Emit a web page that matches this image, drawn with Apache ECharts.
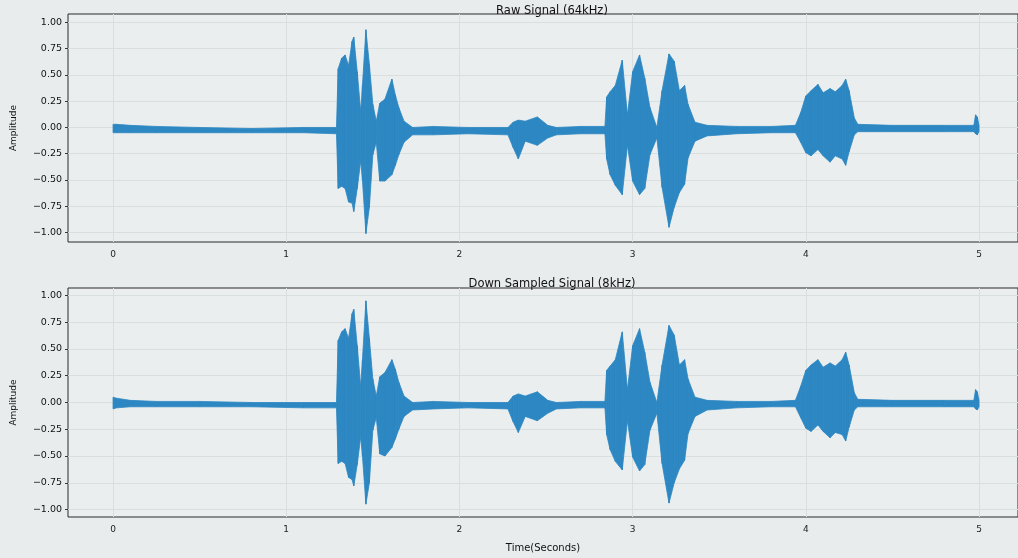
<!DOCTYPE html>
<html>
<head>
<meta charset="utf-8">
<script src="https://cdn.jsdelivr.net/npm/echarts@6/dist/echarts.min.js"></script>
<style>
  html, body { margin: 0; padding: 0; background: #e8ecec; }
  #chart { width: 1018px; height: 558px; }
</style>
</head>
<body>
<div id="chart"></div>
<script>
// time of each envelope sample (seconds)
var seconds = [
  0.00, 0.02, 0.10, 0.25, 0.50, 0.80, 1.10, 1.29, 1.30, 1.32,
  1.34, 1.36, 1.38, 1.39, 1.41, 1.43, 1.44, 1.46, 1.48, 1.50,
  1.52, 1.54, 1.57, 1.61, 1.63, 1.65, 1.68, 1.73, 1.85, 2.05,
  2.28, 2.31, 2.34, 2.38, 2.45, 2.51, 2.56, 2.70, 2.84, 2.85,
  2.87, 2.90, 2.94, 2.97, 3.00, 3.04, 3.07, 3.10, 3.14, 3.17,
  3.21, 3.24, 3.27, 3.30, 3.32, 3.36, 3.43, 3.60, 3.80, 3.94,
  3.97, 4.00, 4.03, 4.07, 4.10, 4.14, 4.17, 4.21, 4.23, 4.25,
  4.28, 4.30, 4.50, 4.80, 4.97, 4.98, 4.99, 5.00
];
// raw signal (64kHz) envelope, top / bottom
var rawUpper = [
  0.03, 0.03, 0.02, 0.01, 0.00, -0.01, 0.00, 0.00, 0.56, 0.66,
  0.69, 0.59, 0.82, 0.86, 0.53, 0.15, 0.40, 0.93, 0.60, 0.22,
  0.06, 0.23, 0.27, 0.46, 0.31, 0.19, 0.06, 0.00, 0.01, 0.00,
  0.00, 0.05, 0.07, 0.06, 0.10, 0.02, 0.00, 0.01, 0.01, 0.29,
  0.34, 0.40, 0.64, 0.12, 0.53, 0.69, 0.47, 0.19, 0.00, 0.35,
  0.70, 0.63, 0.35, 0.40, 0.22, 0.05, 0.02, 0.01, 0.01, 0.02,
  0.14, 0.30, 0.35, 0.41, 0.33, 0.37, 0.34, 0.40, 0.46, 0.35,
  0.09, 0.03, 0.02, 0.02, 0.02, 0.12, 0.10, 0.02
];
var rawLower = [
  -0.05, -0.05, -0.05, -0.05, -0.05, -0.05, -0.05, -0.06, -0.58, -0.56,
  -0.58, -0.71, -0.72, -0.80, -0.58, -0.32, -0.50, -1.01, -0.76, -0.26,
  -0.14, -0.51, -0.51, -0.45, -0.36, -0.26, -0.14, -0.07, -0.07, -0.06,
  -0.07, -0.19, -0.30, -0.13, -0.17, -0.10, -0.07, -0.06, -0.06, -0.30,
  -0.45, -0.55, -0.64, -0.17, -0.51, -0.64, -0.58, -0.26, -0.10, -0.57,
  -0.95, -0.76, -0.62, -0.54, -0.29, -0.13, -0.08, -0.06, -0.05, -0.05,
  -0.14, -0.24, -0.27, -0.21, -0.27, -0.33, -0.27, -0.30, -0.36, -0.23,
  -0.07, -0.04, -0.04, -0.04, -0.04, -0.06, -0.07, -0.04
];
// down sampled signal (8kHz) envelope
var downUpper = [
  0.05, 0.04, 0.02, 0.01, 0.01, 0.00, 0.00, 0.00, 0.58, 0.66,
  0.69, 0.60, 0.83, 0.87, 0.53, 0.15, 0.40, 0.95, 0.60, 0.22,
  0.06, 0.24, 0.28, 0.40, 0.31, 0.19, 0.06, 0.00, 0.01, 0.00,
  0.00, 0.06, 0.08, 0.06, 0.10, 0.02, 0.00, 0.01, 0.01, 0.30,
  0.34, 0.40, 0.66, 0.12, 0.53, 0.69, 0.47, 0.19, 0.00, 0.35,
  0.72, 0.63, 0.35, 0.40, 0.22, 0.05, 0.02, 0.01, 0.01, 0.02,
  0.15, 0.30, 0.35, 0.40, 0.33, 0.37, 0.34, 0.40, 0.47, 0.35,
  0.09, 0.03, 0.02, 0.02, 0.02, 0.12, 0.10, 0.02
];
var downLower = [
  -0.06, -0.05, -0.04, -0.04, -0.04, -0.04, -0.05, -0.05, -0.57, -0.55,
  -0.57, -0.70, -0.72, -0.78, -0.58, -0.32, -0.50, -0.95, -0.75, -0.26,
  -0.14, -0.48, -0.50, -0.42, -0.34, -0.25, -0.13, -0.07, -0.06, -0.05,
  -0.06, -0.18, -0.28, -0.13, -0.17, -0.10, -0.06, -0.05, -0.05, -0.30,
  -0.44, -0.55, -0.63, -0.17, -0.51, -0.64, -0.58, -0.26, -0.10, -0.57,
  -0.94, -0.75, -0.62, -0.54, -0.29, -0.13, -0.07, -0.05, -0.04, -0.04,
  -0.14, -0.24, -0.27, -0.21, -0.27, -0.33, -0.28, -0.30, -0.36, -0.23,
  -0.07, -0.04, -0.04, -0.04, -0.04, -0.06, -0.07, -0.04
];
var ampTicks = [-1, -0.75, -0.5, -0.25, 0, 0.25, 0.5, 0.75, 1];
var timeTicks = [0, 1, 2, 3, 4, 5];

var waveColor = '#2c87c2';
var fontName = 'DejaVu Sans';

// one filled quad per pair of neighbouring envelope samples
function bandSeries(upper, lower, idx) {
    var segs = [];
    for (var i = 0; i < seconds.length - 1; i++) {
        segs.push([seconds[i], lower[i], upper[i], seconds[i + 1], lower[i + 1], upper[i + 1]]);
    }
    return {
        type: 'custom', xAxisIndex: idx, yAxisIndex: idx,
        data: segs, silent: true, animation: false,
        encode: { x: [0, 3], y: [1, 2, 4, 5] },
        renderItem: function (params, api) {
            var a = api.coord([api.value(0), api.value(2)]);
            var b = api.coord([api.value(3), api.value(5)]);
            var c = api.coord([api.value(3), api.value(4)]);
            var d = api.coord([api.value(0), api.value(1)]);
            return {
                type: 'polygon',
                shape: { points: [a, b, c, d] },
                style: { fill: waveColor, stroke: waveColor, lineWidth: 0.8 }
            };
        }
    };
}

function ampLabel(v) {
    var s = Math.abs(v).toFixed(2);
    return v < 0 ? '\u2212' + s : s;
}

function xAxisCfg(idx, withName) {
    return {
        type: 'value', gridIndex: idx, min: -0.26, max: 5.225,
        name: withName ? 'Time(Seconds)' : '', nameLocation: 'middle', nameGap: 26,
        nameTextStyle: { fontFamily: fontName, fontSize: 10, color: '#111' },
        axisLine: { show: false, onZero: false },
        axisTick: { show: false, customValues: timeTicks },
        axisLabel: { customValues: timeTicks, fontFamily: fontName, fontSize: 9, color: '#222', margin: 8 },
        splitLine: { show: true, lineStyle: { color: '#d9dfdf', width: 1 } }
    };
}

function yAxisCfg(idx, lo, hi) {
    return {
        type: 'value', gridIndex: idx, min: lo, max: hi,
        name: 'Amplitude', nameLocation: 'middle', nameGap: 50,
        nameTextStyle: { fontFamily: fontName, fontSize: 9, color: '#111' },
        axisLine: { show: false, onZero: false },
        axisTick: { show: true, length: 3, customValues: ampTicks, lineStyle: { color: '#333' } },
        axisLabel: { customValues: ampTicks, formatter: ampLabel, fontFamily: fontName, fontSize: 9.5, color: '#111', margin: 6 },
        splitLine: { show: true, lineStyle: { color: '#d9dfdf', width: 1 } }
    };
}

var chart = echarts.init(document.getElementById('chart'));
chart.setOption({
    backgroundColor: '#e8ecec',
    animation: false,
    title: [
        { text: 'Raw Signal (64kHz)', left: 547, top: 0, textAlign: 'center',
          textStyle: { fontFamily: fontName, fontSize: 11.5, fontWeight: 'normal', color: '#111' } },
        { text: 'Down Sampled Signal (8kHz)', left: 547, top: 273, textAlign: 'center',
          textStyle: { fontFamily: fontName, fontSize: 11.5, fontWeight: 'normal', color: '#111' } }
    ],
    grid: [
        { left: 68, right: 0, top: 14, height: 228, show: true, backgroundColor: '#eaeeee', borderColor: '#2a2a2a', borderWidth: 1 },
        { left: 68, right: 0, top: 288, height: 229, show: true, backgroundColor: '#eaeeee', borderColor: '#2a2a2a', borderWidth: 1 }
    ],
    xAxis: [xAxisCfg(0, false), xAxisCfg(1, true)],
    yAxis: [yAxisCfg(0, -1.09, 1.08), yAxisCfg(1, -1.07, 1.07)],
    series: [bandSeries(rawUpper, rawLower, 0), bandSeries(downUpper, downLower, 1)]
});
</script>
</body>
</html>
